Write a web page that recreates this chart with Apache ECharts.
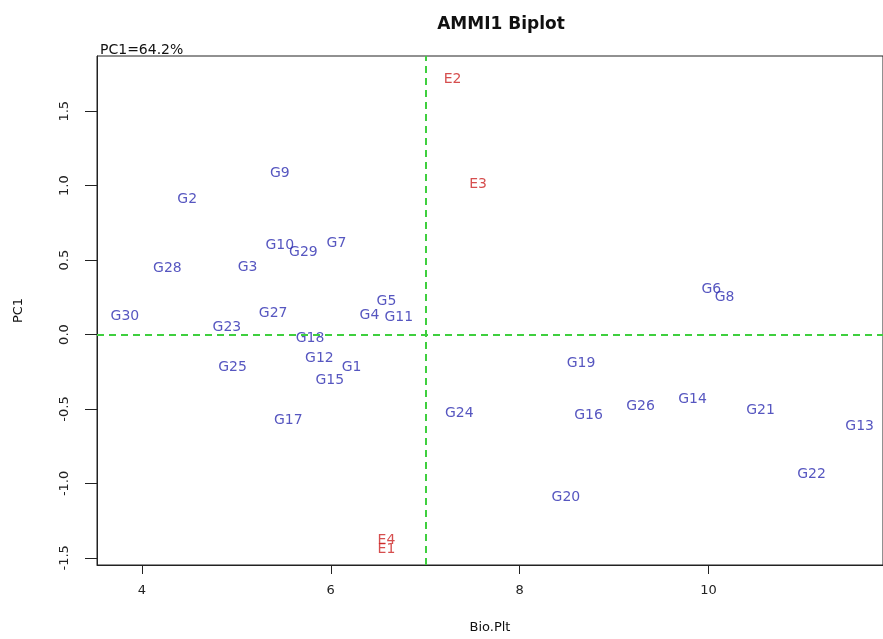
<!DOCTYPE html>
<html>
<head>
<meta charset="utf-8">
<script src="https://cdn.jsdelivr.net/npm/echarts@6/dist/echarts.min.js"></script>
<style>
html,body{margin:0;padding:0;background:#fff;}
#chart{width:883px;height:639px;}
</style>
</head>
<body>
<div id="chart"></div>
<script>
// Genotype scores (Bio.Plt mean, PC1)
const genoNames = ['G1','G2','G3','G4','G5','G6','G7','G8','G9','G10','G11','G12','G13','G14','G15','G16','G17','G18','G19','G20','G21','G22','G23','G24','G25','G26','G27','G28','G29','G30'];
const genoX = [6.22,4.48,5.12,6.41,6.59,10.03,6.06,10.17,5.46,5.46,6.72,5.88,11.60,9.83,5.99,8.73,5.55,5.78,8.65,8.49,10.55,11.09,4.90,7.36,4.96,9.28,5.39,4.27,5.71,3.82];
const genoY = [-0.197,0.927,0.472,0.150,0.243,0.327,0.635,0.272,1.101,0.617,0.133,-0.140,-0.597,-0.415,-0.289,-0.525,-0.553,-0.003,-0.175,-1.075,-0.487,-0.921,0.067,-0.510,-0.197,-0.461,0.162,0.465,0.573,0.142];
// Environment scores
const envNames = ['E1','E2','E3','E4'];
const envX = [6.59,7.29,7.56,6.59];
const envY = [-1.422,1.735,1.031,-1.363];
// Reference lines
const grandMean = 7.01;
const pc1Zero = 0;
// Axis ticks
const xTicks = [4,6,8,10];
const yTicks = [-1.5,-1.0,-0.5,0.0,0.5,1.0,1.5];
const titleText = 'AMMI1 Biplot';
const pcText = 'PC1=64.2%';

const FONT = 'DejaVu Sans';
const chart = echarts.init(document.getElementById('chart'), null, {renderer:'canvas'});

function pts(names, xs, ys){ return names.map((n,i)=>({name:n, value:[xs[i], ys[i]]})); }

chart.setOption({
  backgroundColor:'#fff',
  animation:false,
  title:[
    {text:titleText, left:496, top:11, textAlign:'center',
     textStyle:{fontFamily:FONT, fontSize:17, fontWeight:'bold', color:'#111'}},
    {text:pcText, left:95, top:38,
     textStyle:{fontFamily:FONT, fontSize:14, fontWeight:'normal', color:'#111'}}
  ],
  grid:{left:97, top:56, right:-2, bottom:639-574, show:true, borderColor:'#222', borderWidth:1, containLabel:false},
  xAxis:{
    type:'value', min:3.525, max:11.847,
    name:'Bio.Plt', nameLocation:'middle', nameGap:56,
    nameTextStyle:{fontFamily:FONT, fontSize:13, color:'#111'},
    axisLine:{show:true, onZero:false, lineStyle:{color:'#222', width:1}},
    axisTick:{show:true, length:9, inside:false, customValues:xTicks, lineStyle:{color:'#222'}},
    axisLabel:{show:true, margin:19, customValues:xTicks, fontFamily:FONT, fontSize:13, color:'#222'},
    splitLine:{show:false}
  },
  yAxis:{
    type:'value', min:-1.548, max:1.871,
    name:'PC1', nameLocation:'middle', nameGap:72, nameRotate:90,
    nameTextStyle:{fontFamily:FONT, fontSize:13, color:'#111'},
    axisLine:{show:true, onZero:false, lineStyle:{color:'#222', width:1}},
    axisTick:{show:true, length:12, inside:false, customValues:yTicks, lineStyle:{color:'#222'}},
    axisLabel:{show:true, margin:26, rotate:90, customValues:yTicks, fontFamily:FONT, fontSize:13, color:'#222',
      formatter:v=>v.toFixed(1)},
    splitLine:{show:false}
  },
  series:[
    {
      type:'scatter', data:[], z:1, silent:true,
      markLine:{
        silent:true, symbol:['none','none'], label:{show:false},
        lineStyle:{color:'#3fcf3f', type:[7,5], width:2},
        data:[{xAxis:grandMean},{yAxis:pc1Zero}]
      }
    },
    {
      name:'Genotypes', type:'scatter', z:3, symbolSize:0,
      data:pts(genoNames, genoX, genoY),
      label:{show:true, position:'inside', offset:[0,3], formatter:'{b}', fontFamily:FONT, fontSize:14, color:'#2c2cb0'}
    },
    {
      name:'Environments', type:'scatter', z:3, symbolSize:0,
      data:pts(envNames, envX, envY),
      label:{show:true, position:'inside', offset:[0,3], formatter:'{b}', fontFamily:FONT, fontSize:14, color:'#cc2222'}
    }
  ]
});
</script>
</body>
</html>
